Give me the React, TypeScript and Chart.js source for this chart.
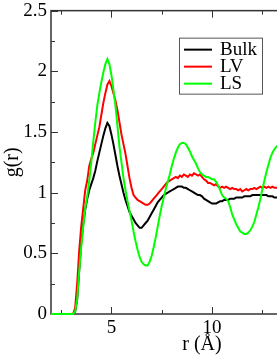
import React, { useEffect, useRef } from "react";
import { Chart, registerables } from "chart.js";

Chart.register(...registerables);

// r (Å)
const R = [
  2.0,
  3.1, 3.2, 3.3, 3.4, 3.5, 3.6, 3.7, 3.8, 3.9, 4.0,
  4.1, 4.2, 4.3, 4.4, 4.5, 4.6, 4.7, 4.8, 4.9, 5.0,
  5.1, 5.2, 5.3, 5.4, 5.5, 5.6, 5.7, 5.8, 5.9, 6.0,
  6.1, 6.2, 6.3, 6.4, 6.5, 6.6, 6.7, 6.8, 6.9, 7.0,
  7.1, 7.2, 7.3, 7.4, 7.5, 7.6, 7.7, 7.8, 7.9, 8.0,
  8.1, 8.2, 8.3, 8.4, 8.5, 8.6, 8.7, 8.8, 8.9, 9.0,
  9.1, 9.2, 9.3, 9.4, 9.5, 9.6, 9.7, 9.8, 9.9, 10.0,
  10.1, 10.2, 10.3, 10.4, 10.5, 10.6, 10.7, 10.8, 10.9, 11.0,
  11.1, 11.2, 11.3, 11.4, 11.5, 11.6, 11.7, 11.8, 11.9, 12.0,
  12.1, 12.2, 12.3, 12.4, 12.5, 12.6, 12.7, 12.8, 12.9, 13.0,
  13.1, 13.2, 13.3,
];

const BULK = [
  0,
  0, 0.02, 0.12, 0.36, 0.58, 0.74, 0.86, 0.95, 1.02, 1.07,
  1.12, 1.18, 1.26, 1.33, 1.4, 1.47, 1.53, 1.575, 1.55, 1.48,
  1.4, 1.31, 1.22, 1.14, 1.07, 1.0, 0.94, 0.89, 0.84, 0.81,
  0.78, 0.75, 0.73, 0.71, 0.71, 0.73, 0.75, 0.77, 0.8, 0.83,
  0.86, 0.89, 0.92, 0.94, 0.96, 0.98, 0.99, 1.0, 1.01, 1.02,
  1.03, 1.04, 1.05, 1.05, 1.05, 1.04, 1.04, 1.03, 1.02, 1.01,
  1.0, 0.99, 0.98, 0.98, 0.97, 0.95, 0.94, 0.93, 0.92, 0.91,
  0.91, 0.91, 0.92, 0.93, 0.93, 0.94, 0.94, 0.94, 0.95, 0.95,
  0.95, 0.96, 0.96, 0.96, 0.96, 0.97, 0.97, 0.97, 0.97, 0.98,
  0.98, 0.98, 0.98, 0.98, 0.98, 0.98, 0.98, 0.97, 0.97, 0.97,
  0.96, 0.96, 0.96,
];

const LV = [
  0,
  0, 0.05, 0.25, 0.52, 0.72, 0.87, 1.02, 1.1, 1.22, 1.28,
  1.33, 1.4, 1.47, 1.54, 1.64, 1.74, 1.82, 1.89, 1.92, 1.88,
  1.82, 1.76, 1.68, 1.58, 1.48, 1.4, 1.32, 1.22, 1.12, 1.04,
  0.98, 0.96, 0.94, 0.93, 0.92, 0.91, 0.9, 0.9, 0.91, 0.93,
  0.95, 0.97, 0.99, 1.01, 1.03, 1.05, 1.07, 1.09, 1.1, 1.11,
  1.12, 1.13, 1.12, 1.14, 1.13, 1.15, 1.14, 1.13, 1.15, 1.14,
  1.16, 1.15, 1.14, 1.15, 1.13, 1.11, 1.1, 1.08, 1.08, 1.07,
  1.06, 1.07, 1.05, 1.04, 1.05, 1.04, 1.05, 1.04, 1.03, 1.04,
  1.03, 1.03, 1.02, 1.03, 1.01, 1.02, 1.03, 1.02, 1.03, 1.03,
  1.04, 1.03, 1.04, 1.05, 1.04, 1.05, 1.04, 1.05, 1.04, 1.05,
  1.04, 1.04, 1.04,
];

const LS = [
  0,
  0, 0.02, 0.12, 0.35, 0.55, 0.72, 0.87, 0.97, 1.1, 1.25,
  1.42, 1.58, 1.72, 1.82, 1.91, 1.99, 2.06, 2.1, 2.06, 1.97,
  1.85, 1.72, 1.55, 1.38, 1.25, 1.12, 1.02, 0.93, 0.85, 0.77,
  0.68, 0.6, 0.53, 0.47, 0.43, 0.41, 0.4, 0.4, 0.43, 0.48,
  0.55, 0.63, 0.72, 0.81, 0.89, 0.96, 1.03, 1.09, 1.15, 1.22,
  1.28, 1.33, 1.37, 1.4, 1.41, 1.41, 1.4, 1.37, 1.34, 1.3,
  1.27, 1.24, 1.2, 1.17, 1.15, 1.14, 1.13, 1.13, 1.12, 1.11,
  1.11, 1.09, 1.06, 1.02, 0.98, 0.96, 0.95, 0.93, 0.88, 0.82,
  0.78, 0.74, 0.71, 0.68, 0.67, 0.66, 0.66, 0.67, 0.69, 0.72,
  0.76, 0.82, 0.88, 0.95, 1.03, 1.1, 1.17, 1.23, 1.29, 1.33,
  1.36, 1.38, 1.39,
];

const SERIES_LABELS = ["Bulk", "LV", "LS"];
const SERIES_COLORS = ["#000000", "#ff0000", "#00ff00"];

const X_MAJOR = [5, 10, 15];
const X_MINOR = [2.5, 7.5, 12.5, 17.5];
const Y_MAJOR = [0, 0.5, 1, 1.5, 2, 2.5];
const Y_MINOR = [0.25, 0.75, 1.25, 1.75, 2.25];

const FONT = "'Liberation Serif', 'Times New Roman', serif";
const AXIS_COLOR = "#333";

const frameTicks = {
  id: "frameTicks",
  beforeDatasetsDraw(chart: any) {
    const { ctx, chartArea, scales } = chart;
    const { left, right, top, bottom } = chartArea;
    const x = scales.x;
    const y = scales.y;
    ctx.save();
    ctx.strokeStyle = AXIS_COLOR;
    ctx.lineWidth = 1.5;
    ctx.strokeRect(left, top, right - left, bottom - top);
    ctx.beginPath();
    const xt = (vals: number[], len: number) => {
      vals.forEach((v) => {
        const px = Math.round(x.getPixelForValue(v)) + 0.5;
        if (px < left || px > right) return;
        ctx.moveTo(px, bottom);
        ctx.lineTo(px, bottom - len);
        ctx.moveTo(px, top);
        ctx.lineTo(px, top + len);
      });
    };
    const yt = (vals: number[], len: number) => {
      vals.forEach((v) => {
        const py = Math.round(y.getPixelForValue(v)) + 0.5;
        ctx.moveTo(left, py);
        ctx.lineTo(left + len, py);
        ctx.moveTo(right, py);
        ctx.lineTo(right - len, py);
      });
    };
    xt(X_MAJOR, 7);
    xt(X_MINOR, 4);
    yt(Y_MAJOR, 7);
    yt(Y_MINOR, 4);
    ctx.lineWidth = 1;
    ctx.stroke();
    ctx.restore();
  },
};

const boxLegend = {
  id: "boxLegend",
  afterDraw(chart: any) {
    const { ctx, chartArea } = chart;
    const bx = chartArea.left + 128;
    const by = chartArea.top + 27;
    const bw = 83;
    const bh = 56;
    ctx.save();
    ctx.fillStyle = "#fff";
    ctx.fillRect(bx, by, bw, bh);
    ctx.strokeStyle = "#555";
    ctx.lineWidth = 1;
    ctx.strokeRect(bx + 0.5, by + 0.5, bw, bh);
    ctx.font = `19px ${FONT}`;
    ctx.textBaseline = "alphabetic";
    ctx.textAlign = "left";
    chart.data.datasets.forEach((ds: any, i: number) => {
      const base = by + 17.5 + i * 17;
      const ly = base - 5.5;
      ctx.strokeStyle = ds.borderColor;
      ctx.lineWidth = 2;
      ctx.beginPath();
      ctx.moveTo(bx + 5, ly);
      ctx.lineTo(bx + 33, ly);
      ctx.stroke();
      ctx.fillStyle = "#000";
      ctx.fillText(ds.label, bx + 41, base);
    });
    ctx.restore();
  },
};

export default function App() {
  const ref = useRef<HTMLCanvasElement>(null);
  useEffect(() => {
    if (!ref.current) return;
    const datasets = [BULK, LV, LS].map((vals, i) => ({
      label: SERIES_LABELS[i],
      data: R.map((r, j) => ({ x: r, y: vals[j] })),
      borderColor: SERIES_COLORS[i],
      backgroundColor: SERIES_COLORS[i],
      borderWidth: 2,
      pointRadius: 0,
      tension: 0,
      fill: false,
      clip: 2,
      order: 2 - i,
    }));
    const chart = new Chart(ref.current, {
      type: "line",
      data: { datasets },
      options: {
        animation: false,
        responsive: false,
        events: [],
        layout: { padding: { top: 8, right: 7, bottom: 0, left: 0 } },
        plugins: {
          legend: { display: false },
          tooltip: { enabled: false },
        },
        scales: {
          x: {
            type: "linear",
            min: 2,
            max: 17,
            grid: { display: false, drawTicks: false },
            border: { display: false },
            afterBuildTicks: (s: any) => {
              s.ticks = X_MAJOR.map((v) => ({ value: v }));
            },
            afterFit: (s: any) => {
              s.height = 44;
            },
            ticks: {
              color: "#000",
              padding: 3,
              maxRotation: 0,
              font: { family: FONT, size: 19, lineHeight: 1.2 },
            },
            title: {
              display: true,
              text: "r (Å)",
              color: "#000",
              padding: { top: 0, bottom: 1 },
              font: { family: FONT, size: 20, lineHeight: 1.2 },
            },
          },
          y: {
            type: "linear",
            min: 0,
            max: 2.5,
            grid: { display: false, drawTicks: false },
            border: { display: false },
            afterBuildTicks: (s: any) => {
              s.ticks = Y_MAJOR.map((v) => ({ value: v }));
            },
            afterFit: (s: any) => {
              s.width = 51;
            },
            ticks: {
              color: "#000",
              padding: 4,
              callback: (v: any) => String(v),
              font: { family: FONT, size: 19, lineHeight: 0.7 },
            },
            title: {
              display: true,
              text: "g(r)",
              color: "#000",
              padding: { top: 1, bottom: 0 },
              font: { family: FONT, size: 20, lineHeight: 1.2 },
            },
          },
        },
      },
      plugins: [frameTicks, boxLegend],
    });
    return () => chart.destroy();
  }, []);
  return (
    <div
      style={{
        position: "absolute",
        left: 0,
        top: 0,
        width: 277,
        height: 358,
        overflow: "hidden",
        background: "#fff",
      }}
    >
      <canvas ref={ref} width={360} height={358} style={{ display: "block" }} />
    </div>
  );
}
